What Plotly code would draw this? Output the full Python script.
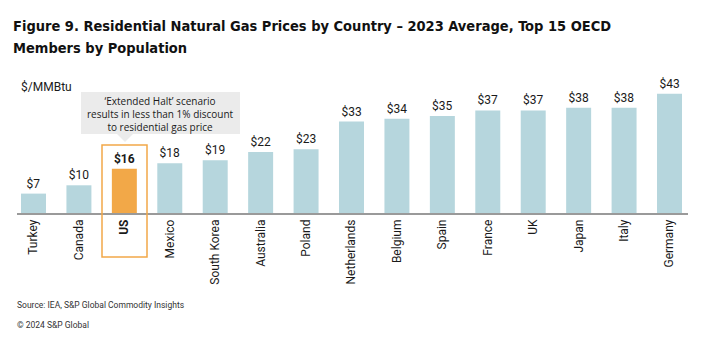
import plotly.graph_objects as go

countries = ["Turkey", "Canada", "US", "Mexico", "South Korea", "Australia", "Poland",
             "Netherlands", "Belgium", "Spain", "France", "UK", "Japan", "Italy", "Germany"]
prices = [7, 10, 16, 18, 19, 22, 23, 33, 34, 35, 37, 37, 38, 38, 43]
highlight = "US"
title_lines = ["Figure 9. Residential Natural Gas Prices by Country – 2023 Average, Top 15 OECD",
               "Members by Population"]
callout_lines = ["‘Extended Halt’ scenario", "results in less than 1% discount", "to residential gas price"]

BLUE = "#b6d6dd"
ORANGE = "#f2a848"
TXT = "#1a1a1a"

colors = [ORANGE if c == highlight else BLUE for c in countries]
labels = [f"${v}" for v in prices]
ticktext = [f"<b>{c}</b>" if c == highlight else c for c in countries]

fig = go.Figure()
fig.add_trace(go.Bar(
    x=list(range(len(countries))), y=prices,
    marker=dict(color=colors, line=dict(width=0)),
    text=[f"<b>{l}</b>" if c == highlight else l for l, c in zip(labels, countries)],
    textposition="outside", cliponaxis=False,
    textfont=dict(family="Roboto", size=12, color=TXT),
    hoverinfo="skip",
))

W, H = 708, 349
L, R, T, B = 17, 20, 80, 136
pw, ph = W - L - R, H - T - B
def px(xp):
    return (xp - L) / pw
def py(yp):
    return (H - B - yp) / ph

fig.update_layout(
    width=W, height=H,
    margin=dict(l=L, r=R, t=T, b=B),
    paper_bgcolor="white", plot_bgcolor="white",
    bargap=0.45, showlegend=False,
    xaxis=dict(range=[-0.363, 14.407], tickmode="array",
               tickvals=list(range(len(countries))), ticktext=ticktext,
               tickangle=-90, tickfont=dict(family="Roboto", size=12, color=TXT),
               showline=True, linecolor="#9a9a9a", linewidth=1.5, ticks="",
               showgrid=False, zeroline=False, fixedrange=True),
    yaxis=dict(range=[0, 48], visible=False, showgrid=False, zeroline=False),
    font=dict(family="Roboto", color=TXT),
)

# title
for i, line in enumerate(title_lines):
    fig.add_annotation(xref="paper", yref="paper", x=px(11), y=py(26 + 22 * i), xanchor="left",
                       yanchor="middle", align="left", showarrow=False,
                       text=f"<b>{line}</b>",
                       font=dict(family="DejaVu Sans Condensed", size=14.5, color="#111111"))
# unit
fig.add_annotation(xref="paper", yref="paper", x=px(19), y=py(87), xanchor="left", yanchor="middle",
                   showarrow=False, text="$/MMBtu", font=dict(family="Roboto", size=12, color=TXT))

# callout box
fig.add_shape(type="rect", xref="paper", yref="paper", x0=px(81), x1=px(240), y0=py(134), y1=py(92),
              fillcolor="#ebebeb", line=dict(width=0), layer="above")
fig.add_shape(type="path", xref="paper", yref="paper",
              path=f"M {px(117)} {py(134)} L {px(133)} {py(134)} L {px(125)} {py(142)} Z",
              fillcolor="#ebebeb", line=dict(width=0), layer="above")
fig.add_annotation(xref="paper", yref="paper", x=px(160.5), y=py(113.5),
                   xanchor="center", yanchor="middle", showarrow=False, align="center",
                   text="<br>".join(callout_lines),
                   font=dict(family="Open Sans", size=10, color=TXT))
# highlight frame
fig.add_shape(type="rect", xref="paper", yref="paper", x0=px(102), x1=px(147), y0=py(257), y1=py(145),
              fillcolor="rgba(0,0,0,0)", line=dict(color=ORANGE, width=1.5), layer="above")

# footer
fig.add_annotation(xref="paper", yref="paper", x=px(15), y=py(305), xanchor="left", yanchor="middle",
                   showarrow=False, text="Source: IEA, S&P Global Commodity Insights",
                   font=dict(family="Roboto", size=8.5, color="#333333"))
fig.add_annotation(xref="paper", yref="paper", x=px(15), y=py(325), xanchor="left", yanchor="middle",
                   showarrow=False, text="© 2024 S&P Global",
                   font=dict(family="Roboto", size=8.5, color="#333333"))

fig.write_html("out.html")
